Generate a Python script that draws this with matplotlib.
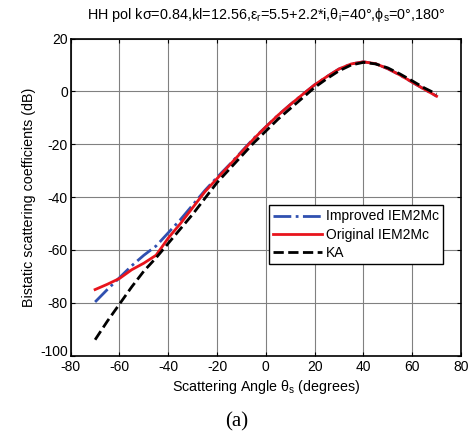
import numpy as np
import matplotlib
matplotlib.use('Agg')
import matplotlib.pyplot as plt
import matplotlib.transforms as mtrans

plt.rcParams['font.family'] = ['Liberation Sans', 'DejaVu Sans']
plt.rcParams['mathtext.default'] = 'regular'
plt.rcParams['axes.unicode_minus'] = False

# scattering angle (deg)
theta_s = [-70, -65, -60, -55, -50, -45, -40, -35, -30, -25, -20, -15, -10, -5, 0,
           5, 10, 15, 20, 25, 30, 35, 40, 45, 50, 55, 60, 65, 70]

improved = [-79.7, -75, -70.5, -66, -62, -58.5, -53.5, -48.5, -43, -37.5, -32.5, -27.8, -22.8, -17.8, -13.4,
            -9, -5, -1.2, 2.5, 5.6, 8.5, 10.4, 11.2, 10.5, 8.6, 6.2, 3.5, 0.8, -1.8]
original = [-75, -73, -70.8, -67.5, -65, -62, -55.5, -50, -44, -38, -33, -28, -23, -18, -13.4,
            -9, -5, -1.2, 2.5, 5.6, 8.5, 10.4, 11.2, 10.5, 8.6, 6.2, 3.5, 0.8, -1.8]
ka = [-94, -87, -80.5, -74, -68, -63, -57.5, -52, -46.5, -40.5, -34.5, -29.5, -24.5, -19.5, -15,
      -10.5, -6.5, -2.5, 1.5, 4.8, 7.8, 10, 11, 10.4, 8.9, 6.6, 4, 1.3, -1]

fig = plt.figure(figsize=(4.73, 4.36), dpi=100)
ax = fig.add_axes([0.1495, 0.1844, 0.8251, 0.7271])

ax.plot(theta_s, improved, color='#3050b0', ls='-.', lw=2, label='Improved IEM2Mc')
ax.plot(theta_s, original, color='#e8141c', ls='-', lw=2, label='Original IEM2Mc')
ax.plot(theta_s, ka, color='black', ls='--', lw=2, label='KA')

ax.set_xlim(-80, 80)
ax.set_ylim(-100, 20)
ax.set_xticks(np.arange(-80, 81, 20))
ax.set_yticks(np.arange(-100, 21, 20))
ax.grid(True, color='#808080', lw=0.8)
ax.tick_params(direction='in', top=True, right=True, labelsize=10, length=3, pad=2)
ax.tick_params(axis='x', pad=3)
for s in ax.spines.values():
    s.set_linewidth(1.2)

# matlab-style: lowest y label sits a little higher so it clears the x labels
fig.canvas.draw()
lab = ax.get_yticklabels()[0]
lab.set_transform(lab.get_transform() + mtrans.ScaledTranslation(0, 5 / 100, fig.dpi_scale_trans))

ax.set_xlabel(r'Scattering Angle $\theta_s$ (degrees)', fontsize=10.3, labelpad=3)
ax.set_ylabel('Bistatic scattering coefficients (dB)', fontsize=10.3, labelpad=3)
ax.set_title(r'HH pol k$\sigma$=0.84,kl=12.56,$\epsilon_r$=5.5+2.2*i,$\theta_i$=40°,$\phi_s$=0°,180°',
             fontsize=10.4, pad=14)

leg = ax.legend(loc='lower left', bbox_to_anchor=(0.508, 0.289), fontsize=10,
                frameon=True, fancybox=False, edgecolor='black', framealpha=1,
                handlelength=3.5, handletextpad=0.3, borderpad=0.3, labelspacing=0.3,
                borderaxespad=0)
leg.get_frame().set_linewidth(1.0)

fig.text(0.5, 0.032, '(a)', family=['Liberation Serif'], fontsize=15, ha='center', va='center')

fig.savefig('out.png', dpi=100)
